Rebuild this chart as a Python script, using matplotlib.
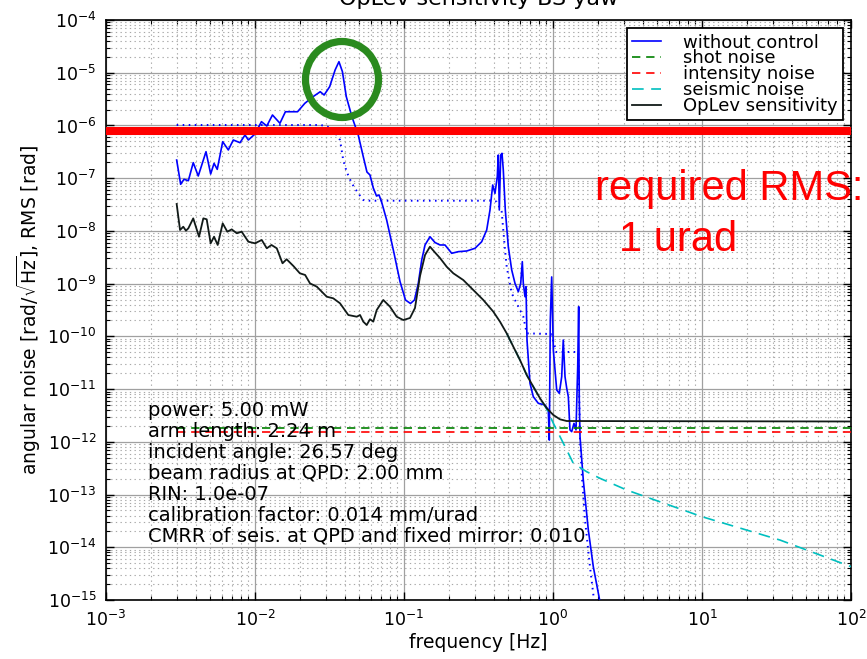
import numpy as np
import matplotlib
matplotlib.use('Agg')
import matplotlib.pyplot as plt
from matplotlib.patches import Ellipse
from matplotlib.ticker import LogLocator, NullFormatter

plt.rcParams['font.family'] = ['DejaVu Sans']
plt.rcParams['axes.unicode_minus'] = False
plt.rcParams['mathtext.default'] = 'regular'

# ---------------- data ----------------
# without control: amplitude spectral density
freq_nc = [2.98e-3, 3.17e-3, 3.34e-3, 3.57e-3, 3.85e-3, 4.16e-3, 4.69e-3, 5.04e-3, 5.31e-3, 5.58e-3,
           6.07e-3, 6.62e-3, 7.15e-3, 7.93e-3, 8.57e-3, 9.02e-3, 1.00e-2, 1.105e-2, 1.20e-2, 1.31e-2,
           1.47e-2, 1.60e-2, 1.93e-2, 2.16e-2, 2.45e-2, 2.74e-2, 2.91e-2, 3.17e-2, 3.45e-2, 3.66e-2,
           3.86e-2, 4.10e-2, 4.47e-2, 4.93e-2, 5.33e-2, 5.64e-2, 5.91e-2, 6.22e-2, 6.54e-2, 6.80e-2,
           7.09e-2, 7.65e-2, 8.48e-2, 9.40e-2, 0.1023, 0.1105, 0.1176, 0.1247, 0.1315, 0.1384,
           0.1494, 0.1614, 0.1744, 0.1884, 0.2090, 0.2314, 0.2635, 0.2996, 0.3322, 0.3589,
           0.3777, 0.3938, 0.4080, 0.4228, 0.4294, 0.4361, 0.4457, 0.4547, 0.4639, 0.4785,
           0.5012, 0.5282, 0.5559, 0.5851, 0.6071, 0.6223, 0.6320, 0.6488, 0.6589, 0.6691,
           0.7008, 0.7376, 0.7967, 0.8838, 0.9301, 0.9445, 0.9592, 0.980, 1.005, 1.059,
           1.102, 1.144, 1.172, 1.204, 1.236, 1.267, 1.300, 1.335, 1.383, 1.427,
           1.465, 1.487, 1.501, 1.518, 1.597, 1.726, 1.864, 2.045, 2.20]
asd_nc = [2.21e-7, 7.66e-8, 9.53e-8, 8.96e-8, 1.97e-7, 1.10e-7, 3.18e-7, 1.20e-7, 1.91e-7, 1.47e-7,
          4.92e-7, 3.43e-7, 5.30e-7, 4.71e-7, 6.59e-7, 5.30e-7, 6.89e-7, 1.18e-6, 9.77e-7, 1.58e-6,
          1.10e-6, 1.82e-6, 1.82e-6, 2.63e-6, 3.51e-6, 4.36e-6, 3.78e-6, 5.43e-6, 1.13e-5, 1.62e-5,
          1.05e-5, 3.51e-6, 1.47e-6, 6.59e-7, 2.55e-7, 1.31e-7, 1.15e-7, 6.52e-8, 4.59e-8, 4.80e-8,
          3.46e-8, 1.61e-8, 4.35e-9, 1.10e-9, 4.90e-10, 4.20e-10, 4.90e-10, 1.01e-9, 2.81e-9, 5.41e-9,
          7.76e-9, 6.03e-9, 5.41e-9, 5.41e-9, 3.76e-9, 4.04e-9, 4.16e-9, 4.68e-9, 6.24e-9, 1.04e-8,
          2.49e-8, 7.43e-8, 5.16e-8, 1.07e-7, 2.75e-7, 2.49e-8, 2.75e-7, 2.96e-7, 1.43e-7, 2.49e-8,
          5.02e-9, 1.82e-9, 1.01e-9, 7.03e-10, 1.01e-9, 2.61e-9, 1.01e-9, 5.65e-10, 8.75e-10, 8.53e-11,
          1.29e-11, 7.18e-12, 5.38e-12, 4.99e-12, 4.02e-12, 1.08e-12, 2.04e-10, 1.34e-9, 5.52e-11, 9.62e-12,
          8.32e-12, 1.72e-11, 8.53e-11, 1.72e-11, 1.04e-11, 7.18e-12, 1.68e-12, 1.56e-12, 2.24e-12, 1.68e-12,
          2.66e-11, 3.66e-10, 6.21e-12, 1.25e-12, 1.89e-13, 2.13e-14, 4.29e-15, 1.08e-15, 2.7e-16]

# without control: cumulative RMS (dotted)
freq_rms = [2.98e-3, 2.77e-2, 3.29e-2, 3.72e-2, 3.91e-2, 4.12e-2, 4.46e-2, 4.93e-2, 5.33e-2, 5.56e-2,
            0.3957, 0.4188, 0.4525, 0.4763, 0.489, 0.5282, 0.5851, 0.632, 0.6662, 0.975,
            1.05, 1.478, 1.501, 1.518, 1.558, 1.640, 1.771, 1.884, 2.00]
rms_nc = [1.02e-6, 1.02e-6, 8.95e-7, 5.30e-7, 2.21e-7, 1.33e-7, 8.0e-8, 5.16e-8, 3.86e-8, 3.74e-8,
          3.74e-8, 3.58e-8, 2.31e-8, 4.35e-9, 2.09e-9, 6.56e-10, 3.66e-10, 2.36e-10, 1.14e-10, 1.11e-10,
          5.06e-11, 5.06e-11, 6.21e-12, 1.08e-12, 2.56e-13, 3.29e-14, 4.29e-15, 1.0e-15, 2.7e-16]

# OpLev sensitivity
freq_sens = [2.98e-3, 3.14e-3, 3.30e-3, 3.44e-3, 3.57e-3, 3.85e-3, 4.21e-3, 4.50e-3, 4.74e-3, 5.04e-3,
             5.31e-3, 5.62e-3, 6.07e-3, 6.52e-3, 6.98e-3, 7.54e-3, 8.14e-3, 9.02e-3, 1.00e-2, 1.11e-2,
             1.20e-2, 1.29e-2, 1.40e-2, 1.53e-2, 1.63e-2, 1.81e-2, 2.00e-2, 2.17e-2, 2.34e-2, 2.60e-2,
             3.03e-2, 3.35e-2, 3.72e-2, 4.23e-2, 4.82e-2, 5.07e-2, 5.33e-2, 5.62e-2, 5.91e-2, 6.22e-2,
             6.56e-2, 7.26e-2, 8.05e-2, 8.93e-2, 9.89e-2, 0.1097, 0.1185, 0.1281, 0.1384, 0.1494,
             0.1614, 0.1744, 0.1935, 0.2143, 0.250, 0.2918, 0.3405, 0.3975, 0.4408, 0.489,
             0.5416, 0.6005, 0.6662, 0.7376, 0.818, 0.9072, 1.005, 1.114, 1.236, 100.0]
asd_sens = [3.24e-8, 1.04e-8, 1.20e-8, 1.01e-8, 1.12e-8, 1.73e-8, 7.76e-9, 1.73e-8, 1.66e-8, 5.82e-9,
            7.76e-9, 5.41e-9, 1.39e-8, 9.66e-9, 1.07e-8, 9.02e-9, 9.66e-9, 6.24e-9, 5.82e-9, 6.73e-9,
            4.68e-9, 5.41e-9, 4.68e-9, 2.43e-9, 2.90e-9, 2.16e-9, 1.57e-9, 1.46e-9, 1.01e-9, 8.75e-10,
            5.65e-10, 5.27e-10, 4.24e-10, 2.54e-10, 2.36e-10, 2.54e-10, 1.90e-10, 1.64e-10, 2.11e-10, 1.90e-10,
            3.16e-10, 4.90e-10, 3.66e-10, 2.36e-10, 2.04e-10, 2.23e-10, 3.45e-10, 1.40e-9, 3.49e-9, 5.02e-9,
            3.90e-9, 3.06e-9, 2.09e-9, 1.57e-9, 1.17e-9, 7.57e-10, 4.90e-10, 2.94e-10, 1.90e-10, 1.14e-10,
            6.37e-11, 3.56e-11, 1.85e-11, 1.11e-11, 6.70e-12, 4.33e-12, 3.23e-12, 2.67e-12, 2.48e-12, 2.43e-12]

# seismic noise
freq_seis = [0.489, 0.5416, 0.6005, 0.6662, 0.7376, 0.818, 0.9072, 1.005, 1.236, 1.368,
             1.683, 2.068, 3.12, 10.0, 33.4, 100.0]
asd_seis = [1.14e-10, 6.37e-11, 3.56e-11, 1.85e-11, 1.11e-11, 6.7e-12, 4.2e-12, 2.25e-12, 7.0e-13, 3.92e-13,
            2.71e-13, 2.03e-13, 1.22e-13, 3.8e-14, 1.37e-14, 4.29e-15]

# flat noises
freq_flat = [2.98e-3, 100.0]
shot_noise = [1.85e-12, 1.85e-12]
intensity_noise = [1.51e-12, 1.51e-12]

required_rms_level = 7.85e-7

legend_labels = ['without control', 'shot noise', 'intensity noise', 'seismic noise', 'OpLev sensitivity']
param_lines = ['power: 5.00 mW',
               'arm length: 2.24 m',
               'incident angle: 26.57 deg',
               'beam radius at QPD: 2.00 mm',
               'RIN: 1.0e-07',
               'calibration factor: 0.014 mm/urad',
               'CMRR of seis. at QPD and fixed mirror: 0.010']

# ---------------- figure ----------------
W, H = 867, 659
fig = plt.figure(figsize=(W / 100, H / 100), dpi=100)
ax = fig.add_axes([106 / W, 1 - 600 / H, 745 / W, 580 / H])

ax.set_xscale('log')
ax.set_yscale('log')
ax.set_xlim(1e-3, 1e2)
ax.set_ylim(1e-15, 1e-4)

ax.xaxis.set_major_locator(LogLocator(base=10, numticks=20))
ax.yaxis.set_major_locator(LogLocator(base=10, numticks=20))
ax.xaxis.set_minor_locator(LogLocator(base=10, subs=np.arange(2, 10), numticks=20))
ax.yaxis.set_minor_locator(LogLocator(base=10, subs=np.arange(2, 10), numticks=20))
ax.xaxis.set_minor_formatter(NullFormatter())
ax.yaxis.set_minor_formatter(NullFormatter())

ax.grid(which='major', color='#a0a0a0', linestyle='-', linewidth=0.9, zorder=0)
ax.grid(which='minor', color='#a8a8a8', linestyle=(0, (1.2, 3.0)), linewidth=0.8, zorder=0)
ax.set_axisbelow(True)

ax.tick_params(which='both', direction='in', top=True, right=True, colors='black')
ax.tick_params(which='major', length=6, width=1.0, labelsize=12.5, pad=7)
ax.tick_params(which='minor', length=3, width=0.8)
for s in ax.spines.values():
    s.set_linewidth(1.2)

l_nc, = ax.plot(freq_nc, asd_nc, color='#0000ff', lw=1.2, label=legend_labels[0], zorder=3)
ax.plot(freq_rms, rms_nc, color='#0000ff', lw=1.4, linestyle=(0, (0.8, 2.3)), zorder=3)
l_shot, = ax.plot(freq_flat, shot_noise, color='#008000', lw=1.2, dashes=(5, 3.5), label=legend_labels[1], zorder=3)
l_int, = ax.plot(freq_flat, intensity_noise, color='#ff0000', lw=1.2, dashes=(5, 3.5), label=legend_labels[2], zorder=3)
l_seis, = ax.plot(freq_seis, asd_seis, color='#00bfbf', lw=1.2, dashes=(7, 4.5), label=legend_labels[3], zorder=3)
l_sens, = ax.plot(freq_sens, asd_sens, color='#111a18', lw=1.3, label=legend_labels[4], zorder=4)

# required RMS annotation line
ax.axhline(required_rms_level, color='#ff0000', lw=5.8, zorder=6)

leg = ax.legend(handles=[l_nc, l_shot, l_int, l_seis, l_sens], loc='upper right',
                bbox_to_anchor=(0.989, 0.986), borderaxespad=0, fontsize=13,
                fancybox=False, framealpha=1, edgecolor='black', labelspacing=-0.12,
                handlelength=1.6, handletextpad=1.2, borderpad=0.3)
leg.get_frame().set_linewidth(1.3)
leg.set_zorder(7)

for i, line in enumerate(param_lines):
    base_px = 416 + i * 20.95
    ax.text(0.0564, (600 - base_px) / 580, line, transform=ax.transAxes,
            fontsize=14, ha='left', va='baseline', zorder=5)

ax.set_xlabel('frequency [Hz]', fontsize=13.5)
ax.xaxis.set_label_coords(0.5, -0.057)
ax.set_ylabel(r'angular noise [rad/$\sqrt{\rm Hz}$], RMS [rad]', fontsize=13.5)
ax.yaxis.set_label_coords(-0.0846, 0.5)

fig.text(478.5 / W, 1 - 5 / H, 'OpLev sensitivity BS yaw', ha='center', va='baseline', fontsize=16)

# overlay annotations (red text, green circle)
fig.text(595 / W, 1 - 200 / H, 'required RMS:', color='#ff0000', fontsize=30,
         family=['Liberation Sans', 'DejaVu Sans'], ha='left', va='baseline')
fig.text(619 / W, 1 - 251 / H, '1 urad', color='#ff0000', fontsize=30,
         family=['Liberation Sans', 'DejaVu Sans'], ha='left', va='baseline')
ell = Ellipse((342 / W, 1 - 79.5 / H), 73 / W, 76 / H, transform=fig.transFigure,
              fill=False, edgecolor='#2a8a1e', linewidth=5.2, zorder=10)
fig.add_artist(ell)

fig.savefig('out.png', dpi=100)
